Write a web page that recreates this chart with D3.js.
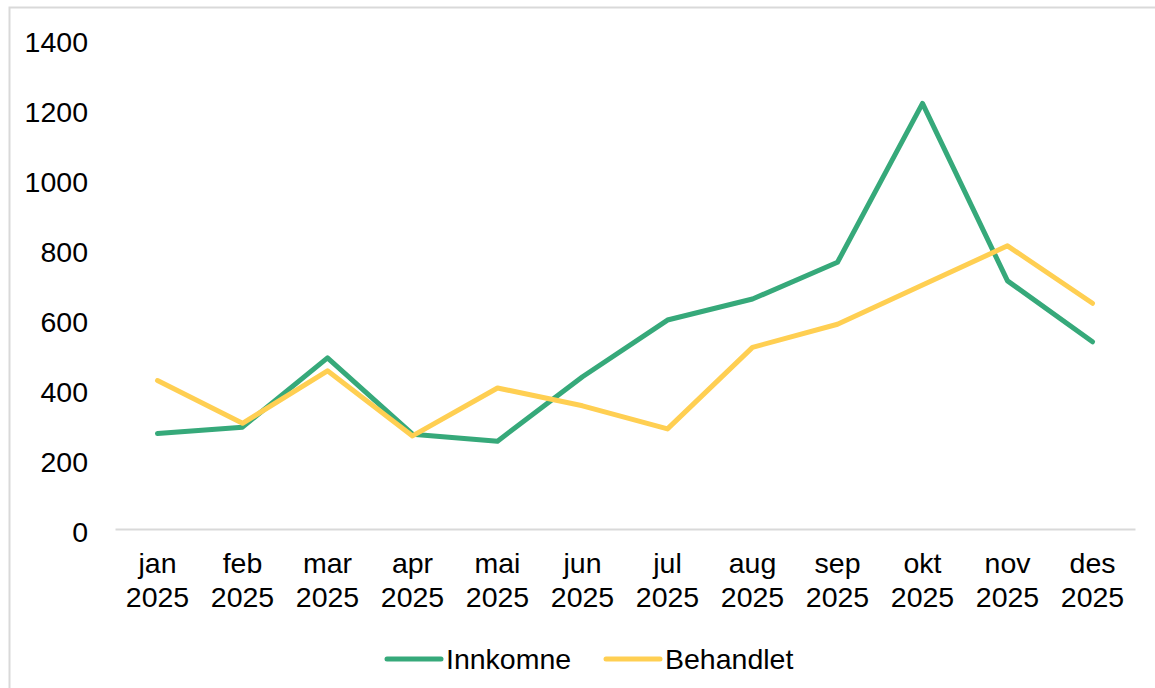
<!DOCTYPE html>
<html>
<head>
<meta charset="utf-8">
<script src="https://cdn.jsdelivr.net/npm/d3@7"></script>
<style>
  body { margin: 0; background: #fff; }
  .chart { width: 1155px; height: 688px; }
  text { font-family: "Liberation Sans", Arial, sans-serif; fill: #000; }
</style>
</head>
<body>
<div class="chart"></div>
<script>
// data
const months = ['jan', 'feb', 'mar', 'apr', 'mai', 'jun', 'jul', 'aug', 'sep', 'okt', 'nov', 'des'];
const year = '2025';
const innkomne = [273, 291, 489, 271, 251, 435, 597, 657, 762, 1216, 709, 535];
const behandlet = [424, 302, 452, 266, 403, 352, 286, 519, 585, 697, 809, 645];
const yTicks = [0, 200, 400, 600, 800, 1000, 1200, 1400];
const seriesNames = ['Innkomne', 'Behandlet'];
const colors = ['#36a97a', '#ffcf52'];

const fontSize = '28.5px';

const width = d3.select('.chart').node().clientWidth;
const height = d3.select('.chart').node().clientHeight;

const plot = d3.select('.chart').append('svg')
  .attr('width', width)
  .attr('height', height)

// outer border of the chart
plot.append('rect')
  .attr('x', 9.5)
  .attr('y', 7.5)
  .attr('width', 1160)
  .attr('height', 700)
  .style('fill', 'none')
  .style('stroke', '#d9d9d9')
  .style('stroke-width', '2px')

const x = d3.scaleBand()
  .domain(months)
  .range([115, 1135])

const y = d3.scaleLinear()
  .domain([0, 1400])
  .range([529, 39])

// y axis labels, no line
const yAxis = plot.append('g')
  .attr('transform', 'translate(88,0)')
  .call(d3.axisLeft(y).tickValues(yTicks).tickSize(0).tickPadding(0).tickFormat(d3.format('d')))
yAxis.select('.domain').remove()
yAxis.selectAll('text')
  .attr('dy', '0.38em')
  .attr('y', 2)
  .style('font-size', fontSize)
  .style('font-family', '"Liberation Sans", Arial, sans-serif')

// x axis: grey baseline and two-line labels
const xAxis = plot.append('g')
  .attr('transform', 'translate(0,' + y(0) + ')')
  .call(d3.axisBottom(x).tickSize(0).tickFormat(''))
xAxis.select('.domain')
  .style('stroke', '#d9d9d9')
  .style('stroke-width', '2px')

xAxis.selectAll('.tick').each(function(d) {
  const t = d3.select(this).append('text')
    .style('font-size', fontSize)
    .style('font-family', '"Liberation Sans", Arial, sans-serif')
    .attr('text-anchor', 'middle')
  t.append('tspan').attr('x', 0).attr('y', 44).text(d)
  t.append('tspan').attr('x', 0).attr('y', 78).text(year)
})

// the two lines
const line = d3.line()
  .x((d, i) => x(months[i]) + x.bandwidth() / 2)
  .y(d => y(d))

const allSeries = [innkomne, behandlet];
allSeries.forEach((s, k) => {
  plot.append('path')
    .datum(s)
    .attr('d', line)
    .style('fill', 'none')
    .style('stroke', colors[k])
    .style('stroke-width', '5px')
    .style('stroke-linejoin', 'round')
    .style('stroke-linecap', 'round')
})

// legend
const legendX = [387, 606];
seriesNames.forEach((name, k) => {
  plot.append('line')
    .attr('x1', legendX[k])
    .attr('x2', legendX[k] + 54)
    .attr('y1', 659)
    .attr('y2', 659)
    .style('stroke', colors[k])
    .style('stroke-width', '5px')
    .style('stroke-linecap', 'round')
  plot.append('text')
    .attr('x', legendX[k] + 59)
    .attr('y', 659)
    .attr('dy', '0.36em')
    .style('font-size', fontSize)
    .text(name)
})
</script>
</body>
</html>
